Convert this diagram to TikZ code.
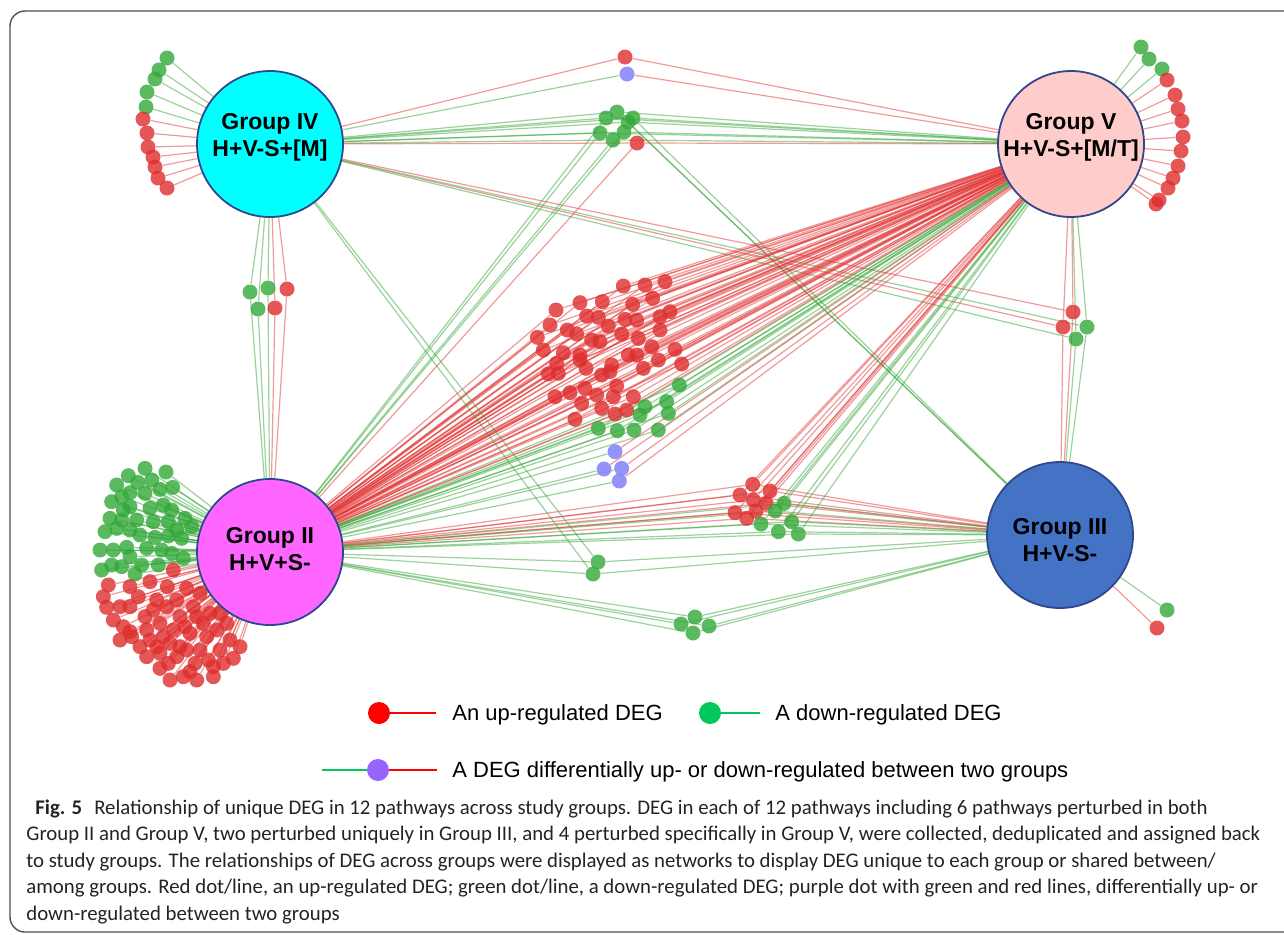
\documentclass[tikz,border=0pt]{standalone}
\usepackage{fontspec}
\setmainfont{Liberation Sans}
\newfontfamily\capfont{Carlito}
\pgfdeclarelayer{bg}\pgfdeclarelayer{mid}
\pgfsetlayers{bg,mid,main}
\definecolor{dotred}{RGB}{222,45,45}
\definecolor{dotgreen}{RGB}{50,168,55}
\definecolor{dotpurple}{RGB}{135,135,250}
\definecolor{linered}{RGB}{225,55,55}
\definecolor{linegreen}{RGB}{55,165,55}
\definecolor{cyanfill}{RGB}{0,255,255}
\definecolor{pinkfill}{RGB}{255,204,204}
\definecolor{magfill}{RGB}{255,102,255}
\definecolor{bluefill}{RGB}{68,114,196}
\definecolor{rim}{RGB}{47,72,140}
\definecolor{legred}{RGB}{255,0,0}
\definecolor{leggreen}{RGB}{0,200,90}
\definecolor{legpurple}{RGB}{150,100,255}
\definecolor{captext}{RGB}{35,35,35}
\definecolor{framec}{RGB}{80,80,80}
\tikzset{
 grp/.style={circle,draw=rim,line width=0.9pt,minimum size=73pt,inner sep=0pt},
 grptext/.style={font=\bfseries\fontsize{11.5}{13.5}\selectfont,align=center,inner sep=0pt},
 rdot/.style={circle,fill=dotred,fill opacity=0.8,minimum size=7.5pt,inner sep=0pt},
 gdot/.style={circle,fill=dotgreen,fill opacity=0.8,minimum size=7.5pt,inner sep=0pt},
 pdot/.style={circle,fill=dotpurple,fill opacity=0.9,minimum size=7.5pt,inner sep=0pt},
 rl/.style={draw=linered,draw opacity=0.5,line width=0.6pt},
 gl/.style={draw=linegreen,draw opacity=0.5,line width=0.6pt},
 legdot/.style={circle,minimum size=11pt,inner sep=0pt},
 legline/.style={line width=1.4pt},
 legtext/.style={font=\fontsize{11}{13}\selectfont,anchor=base west,inner sep=0pt},
 captxt/.style={font=\capfont\fontsize{10.4}{12}\selectfont,text=captext,anchor=base west,inner sep=0pt}
}
% data (pixel coordinates)
\def\IVg{167/58,159/70,155/79,147/92,146/107}
\def\IVr{143/119,147/133,148/147,153/157,155/167,158/178,167/188}
\def\Vg{1141/47,1149/59,1162/69}
\def\Vr{1167/80,1175/95,1178/109,1182/121,1183/137,1181/151,1178/166,1173/178,1168/188,1159/200,1156/204}
\def\IIg{195/55,258/66,145/77,173/97,215/90,110/105,240/118,278/112,150/128,195/130,125/140,95/155,150/170,210/175,250/165,275/180,90/205,125/210,170/210,220/215,265/215,315/205,75/245,110/235,150/240,180/255,225/262,265/258,305/265,335/230,60/300,100/300,140/292,200/295,245/300,275/310,150/320,65/360,95/345,125/350,165/372,185/345,235/345,310/325,130/180,290/240}
\def\IIr{85/405,70/440,80/472,120/470,150/410,210/395,280/360,262/410,320/415,175/440,230/450,290/450,360/430,340/470,150/470,195/500,240/520,300/500,390/490,100/510,130/530,150/545,180/590,210/570,250/560,280/540,330/550,370/520,410/540,440/520,155/560,300/590,240/610,290/620,320/600,200/620,345/640,385/630,420/600,450/570,480/590,460/625,240/655,270/690,310/680,350/690,400/680,400/650,360/600,430/640,270/580,220/480,260/470,315/530,350/500,200/540,230/590,265/640,330/665,380/560,420/490,120/570}
\def\IVIIg{250/292,268/288,258/309}
\def\IVIIr{287/289,275/308}
\def\TCa{617/112,633/118,628/122}
\def\TCb{606/118,600/133,624/132,613/140}
\def\RCr{1073/312,1063/327}
\def\RCg{1087/327,1076/339}
\def\Cr{430/78,495/75,555/65,228/150,300/128,367/125,458/133,518/115,570/155,210/195,262/210,320/168,355/172,385/198,435/178,470/180,540/170,540/210,172/232,290/222,335/240,360/245,425/222,475/235,515/260,585/268,190/270,250/278,300/285,445/285,470/285,535/300,605/312,230/310,205/342,235/340,300/300,318/325,395/315,390/335,365/345,490/325,225/410,270/398,315/385,350/405,410/378,400/410,460/410,305/430,365/445,440/450,405/462,285/478}
\def\Cg{598/375,495/440,560/425,565/460,480/465,355/505,412/512,462/510,535/510}
\def\Cp{405/575,372/627,425/625,418/663}
\def\Mr{218/133,180/165,270/153,220/180,258/190,165/218,200/235,228/213}
\def\Mg{312/190,286/213,243/252,335/245,295/275,355/282}
\def\Lg{598/562,593/574}
\def\Bg{695/617,681/624,709/626,693/633}
\begin{document}
\begin{tikzpicture}[x=0.5pt,y=-0.5pt]
\useasboundingbox (0,0) rectangle (1284,934);
% frame
\draw[framec,line width=0.7pt,rounded corners=7.5pt] (1290,11) -- (10,11) -- (10,932) -- (1290,932);
% groups
\node[grp,fill=cyanfill] (IV) at (270,144) {};
\node[grp,fill=pinkfill] (V) at (1071,144) {};
\node[grp,fill=magfill] (II) at (270,552) {};
\node[grp,fill=bluefill] (III) at (1060,535) {};
\node[grptext] (IVt) at (270,137) {Group IV\\H+V-S+[M]};
\node[grptext] (Vt) at (1071,137) {Group V\\H+V-S+[M/T]};
\node[grptext] (IIt) at (270,549) {Group II\\H+V+S-};
\node[grptext] (IIIt) at (1060,540) {Group III\\H+V-S-};
% ---------- dots ----------
\begin{pgfonlayer}{mid}
\foreach \x/\y [count=\i] in \IVg {\node[gdot] (ivg\i) at (\x,\y) {};}
\foreach \x/\y [count=\i] in \IVr {\node[rdot] (ivr\i) at (\x,\y) {};}
\foreach \x/\y [count=\i] in \Vg {\node[gdot] (vg\i) at (\x,\y) {};}
\foreach \x/\y [count=\i] in \Vr {\node[rdot] (vr\i) at (\x,\y) {};}
\node[gdot] (iiig1) at (1167,610) {};
\node[rdot] (iiir1) at (1157,628) {};
\foreach \x/\y [count=\i] in \IIg {\node[gdot] (iig\i) at ({80+\x/3},{450+\y/3}) {};}
\foreach \x/\y [count=\i] in \IIr {\node[rdot] (iir\i) at ({80+\x/3},{450+\y/3}) {};}
\foreach \x/\y [count=\i] in \IVIIg {\node[gdot] (ivig\i) at (\x,\y) {};}
\foreach \x/\y [count=\i] in \IVIIr {\node[rdot] (ivir\i) at (\x,\y) {};}
\node[rdot] (tr) at (625,57) {};
\node[pdot] (tp) at (627,74) {};
\foreach \x/\y [count=\i] in \TCa {\node[gdot] (tc\i) at (\x,\y) {};}
\foreach \x/\y [count=\i] in \TCb {\node[gdot] (td\i) at (\x,\y) {};}
\node[rdot] (tdr) at (637,143) {};
\foreach \x/\y [count=\i] in \RCr {\node[rdot] (rcr\i) at (\x,\y) {};}
\foreach \x/\y [count=\i] in \RCg {\node[gdot] (rcg\i) at (\x,\y) {};}
\foreach \x/\y [count=\i] in \Cr {\node[rdot] (cr\i) at ({480+\x/3},{260+\y/3}) {};}
\foreach \x/\y [count=\i] in \Cg {\node[gdot] (cg\i) at ({480+\x/3},{260+\y/3}) {};}
\foreach \x/\y [count=\i] in \Cp {\node[pdot] (cp\i) at ({480+\x/3},{260+\y/3}) {};}
\foreach \x/\y [count=\i] in \Mr {\node[rdot] (mr\i) at ({680+\x/3},{440+\y/3}) {};}
\foreach \x/\y [count=\i] in \Mg {\node[gdot] (mg\i) at ({680+\x/3},{440+\y/3}) {};}
\foreach \x/\y [count=\i] in \Lg {\node[gdot] (lg\i) at (\x,\y) {};}
\foreach \x/\y [count=\i] in \Bg {\node[gdot] (bg\i) at (\x,\y) {};}
\end{pgfonlayer}
% ---------- connectors ----------
\begin{pgfonlayer}{bg}
\foreach \x/\y [count=\i] in \IVg {\draw[gl] (ivg\i) -- (IV);}
\foreach \x/\y [count=\i] in \IVr {\draw[rl] (ivr\i) -- (IV);}
\foreach \x/\y [count=\i] in \Vg {\draw[gl] (vg\i) -- (V);}
\foreach \x/\y [count=\i] in \Vr {\draw[rl] (vr\i) -- (V);}
\draw[gl] (iiig1) -- (III);
\draw[rl] (iiir1) -- (III);
\foreach \x/\y [count=\i] in \IIg {\draw[gl] (iig\i) -- (II);}
\foreach \x/\y [count=\i] in \IIr {\draw[rl] (iir\i) -- (II);}
\foreach \x/\y [count=\i] in \IVIIg {\draw[gl] (IV) -- (ivig\i) -- (II);}
\foreach \x/\y [count=\i] in \IVIIr {\draw[rl] (IV) -- (ivir\i) -- (II);}
\draw[rl] (IV) -- (tr) -- (V);
\draw[gl] (IV) -- (tp);
\draw[rl] (tp) -- (V);
\foreach \x/\y [count=\i] in \TCa {\draw[gl] (IV) -- (tc\i) -- (V); \draw[gl] (tc\i) -- (III);}
\foreach \x/\y [count=\i] in \TCb {\draw[gl] (IV) -- (td\i) -- (V); \draw[gl] (td\i) -- (II);}
\draw[rl] (IV) -- (tdr) -- (V); \draw[rl] (tdr) -- (II);
\foreach \x/\y [count=\i] in \RCr {\draw[rl] (IV) -- (rcr\i) -- (V); \draw[rl] (rcr\i) -- (III);}
\foreach \x/\y [count=\i] in \RCg {\draw[gl] (IV) -- (rcg\i) -- (V); \draw[gl] (rcg\i) -- (III);}
\foreach \x/\y [count=\i] in \Cr {\draw[rl] (II) -- (cr\i) -- (V);}
\foreach \x/\y [count=\i] in \Cg {\draw[gl] (II) -- (cg\i) -- (V);}
\foreach \x/\y [count=\i] in \Cp {\draw[gl] (II) -- (cp\i); \draw[rl] (cp\i) -- (V);}
\foreach \x/\y [count=\i] in \Mr {\draw[rl] (II) -- (mr\i) -- (III); \draw[rl] (mr\i) -- (V);}
\foreach \x/\y [count=\i] in \Mg {\draw[gl] (II) -- (mg\i) -- (III); \draw[gl] (mg\i) -- (V);}
\foreach \x/\y [count=\i] in \Lg {\draw[gl] (II) -- (lg\i) -- (III); \draw[gl] (lg\i) -- (IV);}
\foreach \x/\y [count=\i] in \Bg {\draw[gl] (II) -- (bg\i) -- (III);}
\end{pgfonlayer}
% legend
\node[legdot,fill=legred] (lr) at (379,713) {};
\coordinate (lre) at (436,713);
\draw[legline,legred] (lr) -- (lre);
\node[legtext] (lrt) at (452,720) {An up-regulated DEG};
\node[legdot,fill=leggreen] (lg) at (710,713) {};
\coordinate (lge) at (760,713);
\draw[legline,leggreen] (lg) -- (lge);
\node[legtext] (lgt) at (775,720) {A down-regulated DEG};
\node[legdot,fill=legpurple] (lp) at (378,770) {};
\coordinate (lps) at (322,770);
\coordinate (lpe) at (437,770);
\draw[legline,leggreen] (lps) -- (lp);
\draw[legline,legred] (lp) -- (lpe);
\node[legtext] (lpt) at (452,777) {A DEG differentially up- or down-regulated between two groups};
% caption
\node[captxt] (c1) at (35,814) {\textbf{Fig. 5}\hspace{6pt}Relationship of unique DEG in 12 pathways across study groups. DEG in each of 12 pathways including 6 pathways perturbed in both};
\node[captxt] (c2) at (26,840.5) {Group II and Group V, two perturbed uniquely in Group III, and 4 perturbed specifically in Group V, were collected, deduplicated and assigned back};
\node[captxt] (c3) at (26,867) {to study groups. The relationships of DEG across groups were displayed as networks to display DEG unique to each group or shared between/};
\node[captxt] (c4) at (26,893.5) {among groups. Red dot/line, an up-regulated DEG; green dot/line, a down-regulated DEG; purple dot with green and red lines, differentially up- or};
\node[captxt] (c5) at (26,920) {down-regulated between two groups};
\end{tikzpicture}
\end{document}
